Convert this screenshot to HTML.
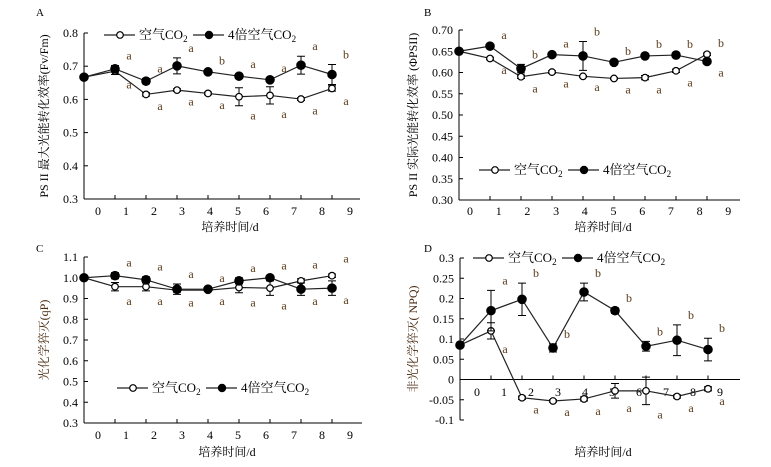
<!DOCTYPE html>
<html><head><meta charset="utf-8"><style>
body{margin:0;background:#fff}
svg text{font-family:"Liberation Serif","Noto Serif CJK SC",serif;}
</style></head><body>
<svg id="c" width="771" height="462" xmlns="http://www.w3.org/2000/svg"></svg>
<script>
const days=[0,1,2,3,4,5,6,7,8];
const tickLabels=["0","1","2","3","4","5","6","7","8","9"];
const aAir=[0.667,0.685,0.615,0.628,0.618,0.608,0.612,0.601,0.633];
const aAirErr=[0,0.01,0.005,0.004,0.004,0.027,0.026,0.004,0.008];
const aHigh=[0.667,0.692,0.655,0.701,0.683,0.670,0.659,0.703,0.675];
const aHighErr=[0,0.01,0.008,0.024,0.004,0.007,0.005,0.027,0.03];
const aHighLet=["","a","a","a","b","a","a","a","b"];
const aAirLet=["","a","a","a","a","a","a","a","a"];
const aTicks=[0.3,0.4,0.5,0.6,0.7,0.8];
const bAir=[0.650,0.633,0.590,0.601,0.591,0.586,0.588,0.604,0.643];
const bAirErr=[0,0.003,0.004,0.003,0.002,0.002,0.005,0.004,0.003];
const bHigh=[0.650,0.662,0.609,0.642,0.639,0.624,0.639,0.641,0.626];
const bHighErr=[0,0.003,0.01,0.003,0.034,0.003,0.004,0.003,0.003];
const bHighLet=["","a","b","a","b","b","b","b","b"];
const bAirLet=["","a","a","a","a","a","a","a","a"];
const bTicks=[0.30,0.35,0.40,0.45,0.50,0.55,0.60,0.65,0.70];
const cAir=[1.0,0.957,0.957,0.94,0.94,0.953,0.95,0.985,1.01];
const cAirErr=[0,0.02,0.02,0.01,0.005,0.025,0.035,0.01,0.008];
const cHigh=[1.0,1.01,0.99,0.945,0.945,0.985,1.0,0.945,0.95];
const cHighErr=[0,0.015,0.015,0.025,0.005,0.015,0.01,0.03,0.035];
const cHighLet=["","a","a","a","a","a","a","a","a"];
const cAirLet=["","a","a","a","a","a","a","a","a"];
const cTicks=[0.3,0.4,0.5,0.6,0.7,0.8,0.9,1.0,1.1];
const dAir=[0.085,0.12,-0.045,-0.053,-0.048,-0.028,-0.028,-0.042,-0.023];
const dAirErr=[0,0.02,0.004,0.003,0.005,0.018,0.034,0.004,0.005];
const dHigh=[0.085,0.17,0.198,0.078,0.216,0.17,0.082,0.097,0.074];
const dHighErr=[0,0.05,0.04,0.01,0.022,0.007,0.012,0.038,0.028];
const dHighLet=["","a","b","b","b","b","b","b","b"];
const dAirLet=["","a","a","a","a","a","a","a","a"];
const dTicks=[-0.1,-0.05,0,0.05,0.1,0.15,0.2,0.25,0.3];
const dTickText=["-0.1","-0.05","0","0.05","0.1","0.15","0.2","0.25","0.3"];

const svg=document.getElementById('c');
const NS="http://www.w3.org/2000/svg";
function mk(tag,attrs,parent){const e=document.createElementNS(NS,tag);for(const k in attrs)e.setAttribute(k,attrs[k]);(parent||svg).appendChild(e);return e;}
function txt(s,x,y,size,anchor,parent,fill){const t=mk('text',{x:x,y:y,'font-size':size,'text-anchor':anchor||'middle',fill:fill||'#000'},parent);t.textContent=s;return t;}
function co2(parent,x,y,pre){const t=mk('text',{x:x,y:y,'font-size':13},parent);t.textContent=pre+'CO';const s=mk('tspan',{'font-size':9,dy:3},t);s.textContent='2';return t;}

function panel(o){
  const g=mk('g',{});
  
  
  const x0=o.ax,step=31,yT=o.yTop,yB=o.yBot,vmin=o.ticks[0],vmax=o.ticks[o.ticks.length-1];
  const px=i=>x0+step*i, py=v=>yB-(v-vmin)/(vmax-vmin)*(yB-yT);
  const L=txt(o.letter,o.lx,o.ly,11,'start',g);
  
  const ya=mk('line',{x1:x0,y1:yT,x2:x0,y2:yB,stroke:'#000','stroke-width':1},g);
  
  o.ticks.forEach((v,k)=>{
    mk('line',{x1:x0,y1:py(v),x2:x0+4,y2:py(v),stroke:'#000'},g);
    const t=txt(o.tickText?o.tickText[k]:v.toFixed(o.dec),x0-6,py(v)+4,12,'end',g);
    
  });
  const xy=py(o.xAt);
  const xa=mk('line',{x1:x0,y1:xy,x2:o.xEnd,y2:xy,stroke:'#000','stroke-width':1},g);
  
  days.forEach(i=>{if(i>0)mk('line',{x1:px(i),y1:xy,x2:px(i),y2:xy-4,stroke:'#000'},g);});
  tickLabels.forEach((s,i)=>{
    const t=txt(s,o.l0+o.ls*i,o.tly,12,'middle',g);
    
  });
  const xt=txt('培养时间/d',o.xtx,o.xty,12,'middle',g);
  
  const yt=txt(o.ytitle,0,0,12,'middle',g,o.ycol||'#000');
  yt.setAttribute('transform',`translate(${o.ytx},${(yT+yB)/2}) rotate(-90)`);
  
  function series(vals,errs,filled,name){
    const sg=mk('g',{},g);
    
    const pl=mk('polyline',{points:vals.map((v,i)=>px(i)+','+py(v)).join(' '),fill:'none',stroke:'#222','stroke-width':1.2},sg);
    
    vals.forEach((v,i)=>{
      if(errs[i]>0){
        const e1=py(v+errs[i]),e2=py(v-errs[i]);
        const eb=mk('path',{d:`M${px(i)},${e1}V${e2}M${px(i)-4},${e1}H${px(i)+4}M${px(i)-4},${e2}H${px(i)+4}`,stroke:'#000',fill:'none'},sg);
        
      }
      const c=mk('circle',{cx:px(i),cy:py(v),r:filled?4.2:3.3,fill:filled?'#000':'#fff',stroke:'#000','stroke-width':1.2},sg);
      
    });
  }
  series(o.air,o.airErr,false,'air-co2-series');
  series(o.high,o.highErr,true,'high-co2-series');
  o.high.forEach((v,i)=>{if(!o.hl[i])return;
    const t=txt(o.hl[i],px(i)+14,py(Math.max(v,o.air[i])+o.highErr[i])-6,12,'middle',g,'#5a3a1a');
    });
  o.air.forEach((v,i)=>{if(!o.al[i])return;
    const t=txt(o.al[i],px(i)+14,py(Math.min(v,o.high[i])-o.airErr[i])+14,12,'middle',g,'#5a3a1a');
    });
  const lg=mk('g',{},g);
  
  const [lx,ly]=o.leg;
  const e1=mk('g',{},lg);
  mk('line',{x1:lx,y1:ly,x2:lx+31,y2:ly,stroke:'#222','stroke-width':1.2},e1);
  mk('circle',{cx:lx+16,cy:ly,r:3.3,fill:'#fff',stroke:'#000','stroke-width':1.2},e1);
  co2(e1,lx+35,ly+4,'空气');
  const e2=mk('g',{},lg);
  mk('line',{x1:lx+89,y1:ly,x2:lx+120,y2:ly,stroke:'#222','stroke-width':1.2},e2);
  mk('circle',{cx:lx+105,cy:ly,r:4.2,fill:'#000'},e2);
  co2(e2,lx+124,ly+4,'4倍空气');
}
panel({name:'panel-a-fvfm',letter:'A',lx:36,ly:16,ax:84,yTop:33,yBot:199,ticks:aTicks,dec:1,xAt:0.3,xEnd:360,l0:98,ls:28,tly:215,xtx:230,xty:231,ytitle:'PS II 最大光能转化效率(Fv/Fm)',ytx:48,air:aAir,airErr:aAirErr,high:aHigh,highErr:aHighErr,hl:aHighLet,al:aAirLet,leg:[104,35]});
panel({name:'panel-b-phipsii',letter:'B',lx:424,ly:16,ax:459,yTop:30,yBot:200,ticks:bTicks,dec:2,xAt:0.3,xEnd:740,l0:470,ls:28.7,tly:215,xtx:603,xty:231,ytitle:'PS II 实际光能转化效率 (ΦPSII)',ytx:417,air:bAir,airErr:bAirErr,high:bHigh,highErr:bHighErr,hl:bHighLet,al:bAirLet,leg:[479,170]});
panel({name:'panel-c-qp',letter:'C',lx:36,ly:252,ax:84,yTop:257,yBot:423,ticks:cTicks,dec:1,xAt:0.3,xEnd:362,l0:98,ls:28,tly:439,xtx:227,xty:456,ytitle:'光化学猝灭(qP)',ytx:48,ycol:'#4a2a10',air:cAir,airErr:cAirErr,high:cHigh,highErr:cHighErr,hl:cHighLet,al:cAirLet,leg:[117,388]});
panel({name:'panel-d-npq',letter:'D',lx:424,ly:252,ax:460,yTop:258,yBot:420,ticks:dTicks,tickText:dTickText,dec:2,xAt:0,xEnd:740,l0:477,ls:27,tly:396,xtx:603,xty:456,ytitle:'非光化学猝灭( NPQ)',ytx:417,ycol:'#4a2a10',air:dAir,airErr:dAirErr,high:dHigh,highErr:dHighErr,hl:dHighLet,al:dAirLet,leg:[473,258]});
</script>
</body></html>
